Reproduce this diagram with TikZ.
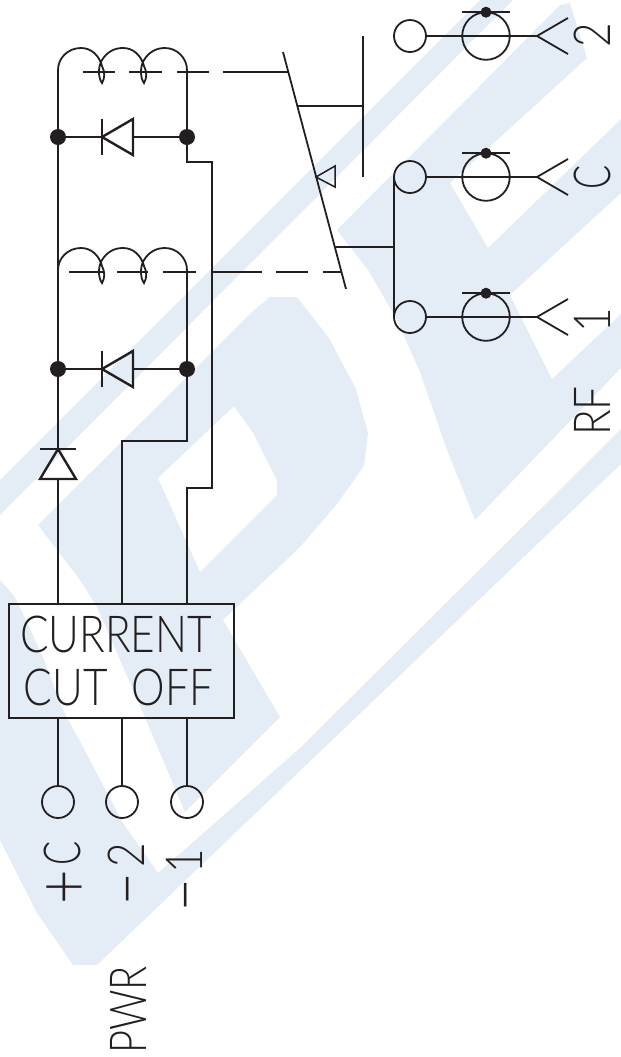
\documentclass[tikz,border=0pt]{standalone}
\usepackage{fontspec}
\setmainfont{Lato}[UprightFont=* Light,FakeStretch=0.83]
\usetikzlibrary{positioning}
\definecolor{markFill}{RGB}{228,237,246}
\definecolor{wireCol}{RGB}{35,31,32}

\begin{document}
\begin{tikzpicture}[
	x=0.5pt, y=-0.5pt,
	line width=0.9pt,
	color=wireCol,
	terminal/.style={draw, circle, minimum size=16pt, inner sep=0pt, outer sep=0pt},
	meter/.style={draw, circle, minimum size=23.8pt, inner sep=0pt, outer sep=0pt},
	junction/.style={fill=wireCol, circle, minimum size=8pt, inner sep=0pt, outer sep=0pt},
	meterdot/.style={fill=wireCol, circle, minimum size=5.5pt, inner sep=0pt, outer sep=0pt},
	cutbox/.style={draw, minimum width=112.5pt, minimum height=57pt, inner sep=0pt, outer sep=0pt,
		align=center, font=\fontsize{25.5}{26.5}\selectfont},
	sidetext/.style={rotate=90, anchor=base, inner sep=0pt, font=\fontsize{25.5}{26}\selectfont},
	diodeline/.style={line width=1.2pt, line join=miter},
	coil/.pic={
		\draw (0,-2) .. controls (0,-14) and (10,-24) .. (23,-24)
			.. controls (33,-24) and (41,-17) .. (44,-6)
			.. controls (47,0) and (47,6) .. (44,11)
			.. controls (40,6) and (40,-6) .. (44,-12)
			.. controls (49,-20) and (56,-24) .. (65,-24)
			.. controls (75,-24) and (83,-17) .. (86,-6)
			.. controls (89,0) and (89,6) .. (86,11)
			.. controls (82,6) and (82,-6) .. (86,-12)
			.. controls (91,-20) and (98,-24) .. (107,-24)
			.. controls (119,-24) and (129,-14) .. (129,-2);
	},
	]
	\useasboundingbox (0,0) rectangle (621,1057);

	\fill[markFill] (0,480) -- (480,0) -- (513,0) -- (0,515) -- cycle;
	\fill[markFill, even odd rule] (38,525) -- (253,311) -- (270,297) -- (297,297) -- (329,338)
		-- (356,389) -- (368,433) -- (364,466) -- (337,504) -- (300,547) -- (223,620) -- (280,717)
		-- (185,812) -- (143,713) -- (97,607) -- (80,580) -- cycle
		(234,406) -- (253,433) -- (277,480) -- (277,495) -- (200,572) -- (158,478) -- cycle;
	\fill[markFill] (0,580) -- (15,597) -- (43,657) -- (63,710) -- (83,747) -- (123,823) -- (158,873)
		-- (300,748) -- (621,429) -- (621,464) -- (97,965) -- (73,965) -- (37,913) -- (0,840) -- cycle;
	\fill[markFill] (337,230) -- (560,5) -- (570,3) -- (587,58) -- (450,183) -- (488,248) -- (621,119)
		-- (621,193) -- (510,295) -- (552,379) -- (621,314) -- (621,368) -- (475,520) -- (447,450)
		-- (420,372) -- (396,318) -- (368,270) -- cycle;

	\pic at (58,72) {coil};
	\pic at (58,272) {coil};

	\node [junction] (dotTL) at (58,137) {};
	\node [junction] (dotTR) at (187,137) {};
	\node [junction] (dotBL) at (58,369) {};
	\node [junction] (dotBR) at (187,369) {};
	\coordinate (coilTL) at (58,70);
	\coordinate (coilTR) at (187,70);
	\coordinate (coilBR) at (187,270);
	\coordinate (dioT) at (102,137);
	\coordinate (dioB) at (102,369);
	\coordinate (dioS) at (58,449);

	\node [cutbox] (cutoff) at (121.5,661) {CURRENT\hspace*{5.5pt}\\CUT\hspace{12pt}OFF\hspace*{3pt}};
	\node [terminal] (pwrC) at (58,802) {};
	\node [terminal] (pwr2) at (122,802) {};
	\node [terminal] (pwr1) at (187,802) {};

	\draw (coilTL) -- (dotTL) -- (dotBL) -- (dioS);
	\draw (dioS) ++(0,30) -- (dioS |- cutoff.north);
	\draw (coilTR) -- (dotTR);
	\draw (coilBR) -- (dotBR);
	\draw (dotTR) |- ++(25,25) |- ++(-25,326) -- (dotTR |- cutoff.north);
	\draw (dotBR) |- ++(-65,72) -- (pwr2 |- cutoff.north);
	\draw (pwrC) -- (pwrC |- cutoff.south);
	\draw (pwr2) -- (pwr2 |- cutoff.south);
	\draw (pwr1) -- (pwr1 |- cutoff.south);

	\draw (dotTL) -- (dioT);
	\draw (dioT) ++(0,-18) -- ++(0,36);
	\draw [diodeline] (dioT) -- ++(31,-18) -- ++(0,36) -- cycle;
	\draw (dioT) ++(31,0) -- (dotTR);
	\draw (dotBL) -- (dioB);
	\draw (dioB) ++(0,-18) -- ++(0,36);
	\draw [diodeline] (dioB) -- ++(31,-18) -- ++(0,36) -- cycle;
	\draw (dioB) ++(31,0) -- (dotBR);
	\draw (dioS) ++(-18,0) -- ++(36,0);
	\draw [diodeline] (dioS) -- ++(18,30) -- ++(-36,0) -- cycle;

	\coordinate (armTop) at (283,52);
	\coordinate (armEnd) at (346,289);
	\coordinate (armA) at (288.3,72);
	\coordinate (armB) at (297.4,106);
	\coordinate (armC) at (316,177);
	\coordinate (armD) at (334.8,247);
	\coordinate (armE) at (341.5,272);
	\coordinate (mechT) at (83,72);
	\coordinate (mechB) at (69,272);
	\coordinate (contactT) at (363,36);
	\coordinate (contactB) at (363,177);
	\coordinate (busJoin) at (394,247);

	\draw (armTop) -- (armEnd);
	\draw [dash pattern=on 16pt off 7pt on 16.5pt off 7.5pt on 16pt off 7pt on 33pt off 99pt] (mechT) -- (armA);
	\draw [dash pattern=on 17pt off 7pt on 15.5pt off 7.5pt on 16.5pt off 7.5pt on 25.5pt off 7pt on 16pt off 7.5pt on 10pt off 99pt] (mechB) -- (armE);
	\draw [line width=0.75pt] (armC) -- ++(19,-11) -- ++(0,21) -- cycle;
	\draw (armB) -- (armB -| contactT);
	\draw (contactT) -- (contactB);

	\node [terminal] (rfT) at (410,36) {};
	\node [terminal] (rfC) at (410,177) {};
	\node [terminal] (rfO) at (410,317) {};
	\node [meter] (meterT) at (486,36) {};
	\node [meter] (meterC) at (486,177) {};
	\node [meter] (meterO) at (486,317) {};
	\node [meterdot] (dotT) at (meterT.north) {};
	\node [meterdot] (dotC) at (meterC.north) {};
	\node [meterdot] (dotO) at (meterO.north) {};
	\coordinate (forkT) at (537,36);
	\coordinate (forkC) at (537,177);
	\coordinate (forkO) at (537,317);

	\draw (armD) -- (busJoin);
	\draw (rfC.west) -- (rfO.west);
	\draw (rfT) -- (forkT);
	\draw (rfC) -- (forkC);
	\draw (rfO) -- (forkO);
	\draw ([xshift=-12pt]dotT.center) -- ([xshift=12pt]dotT.center);
	\draw ([xshift=-12pt]dotC.center) -- ([xshift=12pt]dotC.center);
	\draw ([xshift=-12pt]dotO.center) -- ([xshift=12pt]dotO.center);
	\draw (forkT) ++(31,-18) -- (forkT) -- ++(31,18);
	\draw (forkC) ++(31,-18) -- (forkC) -- ++(31,18);
	\draw (forkO) ++(31,-18) -- (forkO) -- ++(31,18);

	\node [sidetext] (lblC) at (81,873) {\raisebox{-3.5pt}{\fontsize{36}{36}\selectfont +}\hspace{2pt}\addfontfeature{FakeStretch=0.7}C};
	\node [sidetext] (lbl2) at (144,875) {\raisebox{-2pt}{\fontsize{36}{36}\selectfont –}\hspace{2pt}2};
	\node [sidetext] (lbl1) at (202,881) {\raisebox{-2pt}{\fontsize{36}{36}\selectfont –}\hspace{2pt}1};
	\node [sidetext] (lblPwr) at (147,1010) {\addfontfeature{FakeStretch=0.78}PWR};
	\node [sidetext] (lblRf) at (610,411) {RF};
	\node [sidetext] (lblOne) at (610,320) {1};
	\node [sidetext] (lblCom) at (610,177) {\addfontfeature{FakeStretch=0.7}C};
	\node [sidetext] (lblTwo) at (610,35) {2};
\end{tikzpicture}
\end{document}
